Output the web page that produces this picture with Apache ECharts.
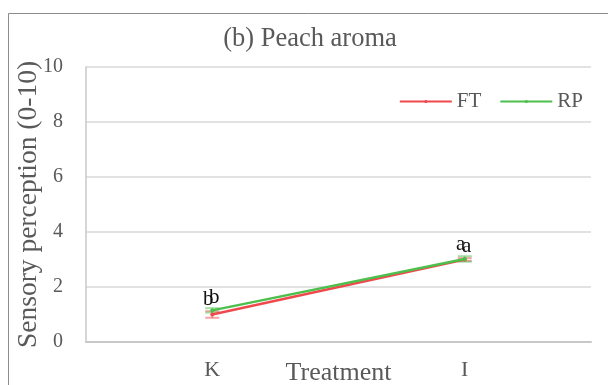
<!DOCTYPE html>
<html>
<head>
<meta charset="utf-8">
<script src="https://cdn.jsdelivr.net/npm/echarts@6/dist/echarts.min.js"></script>
<style>
html,body{margin:0;padding:0;background:#fff;}
#chart{width:608px;height:385px;}
</style>
</head>
<body>
<div id="chart"></div>
<script>
// Peach aroma sensory scores by treatment
const categories = ['K', 'I'];
const seriesNames = ['FT', 'RP'];
const ftValues = [1.0, 3.0];
const rpValues = [1.15, 3.02];
const ftErrors = [0.12, 0.05];
const rpErrors = [0.08, 0.1];
const ftLetters = ['b', 'a'];
const rpLetters = ['b', 'a'];
const yTicks = [0, 2, 4, 6, 8, 10];

const FONT = '"Liberation Serif", "Times New Roman", serif';
const TEXT = '#595959';
const RED = '#f0494d';
const GREEN = '#4cbf4c';

const chart = echarts.init(document.getElementById('chart'), null, { renderer: 'canvas' });

function lineSeries(name, values, letters, color, dx, dy, z) {
  return {
    name: name,
    type: 'line',
    data: values,
    symbol: 'circle',
    symbolSize: 4,
    z: z,
    lineStyle: { color: color, width: 2.5 },
    itemStyle: { color: color },
    label: {
      show: true,
      position: 'top',
      offset: [dx, dy],
      formatter: p => letters[p.dataIndex],
      fontFamily: FONT,
      fontSize: 21,
      color: '#111'
    }
  };
}

function errorSeries(values, errors, color) {
  return {
    type: 'custom',
    silent: true,
    z: 1,
    data: values.map((v, i) => [i, v - errors[i], v + errors[i]]),
    renderItem: function (params, api) {
      const x = api.value(0);
      const lo = api.coord([x, api.value(1)]);
      const hi = api.coord([x, api.value(2)]);
      const w = 7;
      const style = { stroke: color, lineWidth: 2, opacity: 0.5 };
      return {
        type: 'group',
        children: [
          { type: 'line', shape: { x1: lo[0], y1: lo[1], x2: hi[0], y2: hi[1] }, style: style },
          { type: 'line', shape: { x1: lo[0] - w, y1: lo[1], x2: lo[0] + w, y2: lo[1] }, style: style },
          { type: 'line', shape: { x1: hi[0] - w, y1: hi[1], x2: hi[0] + w, y2: hi[1] }, style: style }
        ]
      };
    }
  };
}

chart.setOption({
  animation: false,
  backgroundColor: '#fff',
  title: {
    text: '(b) Peach aroma',
    left: 305,
    top: 21,
    textAlign: 'center',
    textStyle: { fontFamily: FONT, fontSize: 26.5, fontWeight: 'normal', color: TEXT }
  },
  legend: {
    data: seriesNames,
    right: 20,
    top: 86,
    itemWidth: 52,
    itemHeight: 4,
    itemGap: 18,
    textStyle: { fontFamily: FONT, fontSize: 21, color: TEXT }
  },
  grid: { left: 86, right: 17, top: 67, bottom: 43, outerBoundsMode: 'none' },
  xAxis: {
    type: 'category',
    data: categories,
    boundaryGap: true,
    name: 'Treatment',
    nameLocation: 'middle',
    nameGap: 18,
    nameMoveOverlap: false,
    nameTextStyle: { fontFamily: FONT, fontSize: 26, color: TEXT },
    axisLine: { lineStyle: { color: '#c8c8c8', width: 2 } },
    axisTick: { show: false },
    axisLabel: { fontFamily: FONT, fontSize: 22, color: TEXT, margin: 17 }
  },
  yAxis: {
    type: 'value',
    min: yTicks[0],
    max: yTicks[yTicks.length - 1],
    interval: 2,
    name: 'Sensory perception (0-10)',
    nameLocation: 'middle',
    nameGap: 43,
    nameMoveOverlap: false,
    nameTextStyle: { fontFamily: FONT, fontSize: 27.5, color: TEXT },
    axisLine: { show: true, lineStyle: { color: '#c8c8c8', width: 1.5 } },
    axisTick: { show: false },
    splitLine: { lineStyle: { color: '#d9d9d9', width: 1.5 } },
    axisLabel: { fontFamily: FONT, fontSize: 20, color: TEXT, margin: 23 }
  },
  graphic: [{
    type: 'rect',
    silent: true,
    shape: { x: 8.5, y: 13.5, width: 620, height: 400 },
    style: { fill: 'none', stroke: '#8c8c8c', lineWidth: 1 }
  }],
  series: [
    errorSeries(ftValues, ftErrors, RED),
    errorSeries(rpValues, rpErrors, GREEN),
    lineSeries('FT', ftValues, ftLetters, RED, -4, 2, 3),
    lineSeries('RP', rpValues, rpLetters, GREEN, 2, 5, 4)
  ]
});
</script>
</body>
</html>
